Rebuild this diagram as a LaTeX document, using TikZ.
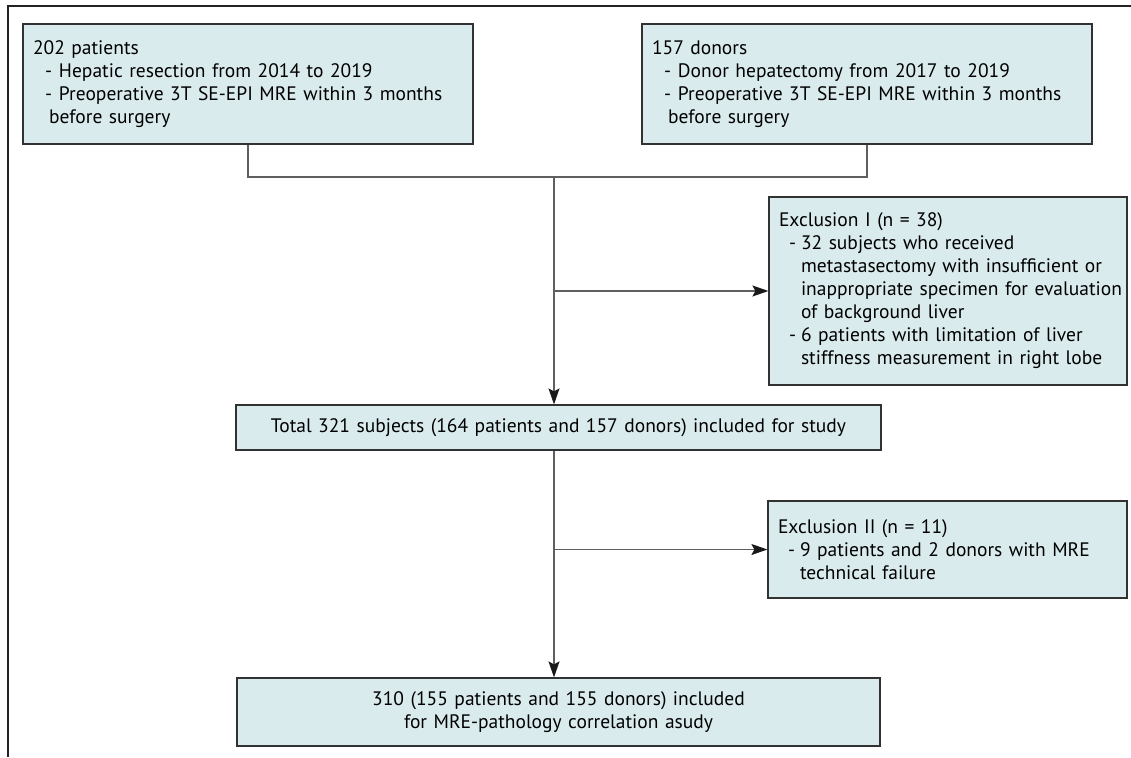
\documentclass[tikz,border=0pt]{standalone}
\usepackage{fontspec}
\setmainfont{PT Sans}
\usetikzlibrary{arrows.meta}
\definecolor{boxfill}{RGB}{218,235,238}
\definecolor{boxline}{RGB}{50,50,50}
\definecolor{connline}{RGB}{95,95,95}
\definecolor{frameline}{RGB}{35,35,35}
\definecolor{tipcol}{RGB}{25,25,25}
\newcommand{\dashitem}[1]{\mbox{\hspace*{12pt}\makebox[14pt][l]{-}#1}}
\newcommand{\dashitemE}[1]{\mbox{\hspace*{10pt}\makebox[12pt][l]{-}#1}}
\newcommand{\contitem}[2]{\mbox{\hspace*{#1}#2}}
\begin{document}
\begin{tikzpicture}[x=1pt,y=-1pt,
  box/.style={draw=boxline, fill=boxfill, line width=1.2pt, rectangle,
    inner xsep=10pt, inner ysep=0pt, font=\fontsize{19.5}{23}\selectfont, align=left},
  cbox/.style={box, align=center},
  link/.style={draw=connline, line width=1.2pt},
  arrowlink/.style={link, -{Stealth[length=16pt,width=11pt,inset=3pt,color=tipcol]}}]
\useasboundingbox (0,0) rectangle (1131,757);
\draw[frameline, line width=1.4pt] (8,757) -- (8,6) -- (1131,6);

\node[box, minimum width=450pt, minimum height=120pt, text width=430pt] (A) at (248,84)
  {202 patients\\
   \dashitem{Hepatic resection from 2014 to 2019}\\
   \dashitem{Preoperative 3T SE-EPI MRE within 3 months}\\
   \contitem{16pt}{before surgery}};
\node[box, minimum width=450pt, minimum height=120pt, text width=430pt] (B) at (867,84)
  {157 donors\\
   \dashitem{Donor hepatectomy from 2017 to 2019}\\
   \dashitem{Preoperative 3T SE-EPI MRE within 3 months}\\
   \contitem{16pt}{before surgery}};
\node[box, minimum width=358pt, minimum height=188pt, text width=338pt] (E1) at (948,291)
  {Exclusion I (n = 38)\\
   \dashitemE{32 subjects who received}\\
   \contitem{22pt}{metastasectomy with insufficient or}\\
   \contitem{22pt}{inappropriate specimen for evaluation}\\
   \contitem{22pt}{of background liver}\\
   \dashitemE{6 patients with limitation of liver}\\
   \contitem{22pt}{stiffness measurement in right lobe}};
\node[cbox, minimum width=645pt, minimum height=45pt, text width=625pt] (T) at (558.5,427.5)
  {Total 321 subjects (164 patients and 157 donors) included for study};
\node[box, minimum width=359pt, minimum height=97pt, text width=339pt] (E2) at (947.5,549.5)
  {Exclusion II (n = 11)\\
   \dashitemE{9 patients and 2 donors with MRE}\\
   \contitem{22pt}{technical failure}};
\node[cbox, minimum width=643pt, minimum height=68pt, text width=623pt] (F) at (558.5,712)
  {310 (155 patients and 155 donors) included\\
   for MRE-pathology correlation asudy};

\coordinate (j) at (554,177);
\coordinate (b1) at (554,291);
\coordinate (b2) at (554,549.5);
\draw[link] (A.south) |- (j);
\draw[link] (B.south) |- (j);
\draw[arrowlink] (j) -- (j |- T.north);
\draw[arrowlink] (b1) -- (E1.west);
\draw[arrowlink] (j |- T.south) -- (j |- F.north);
\draw[arrowlink] (b2) -- (E2.west);
\end{tikzpicture}
\end{document}
